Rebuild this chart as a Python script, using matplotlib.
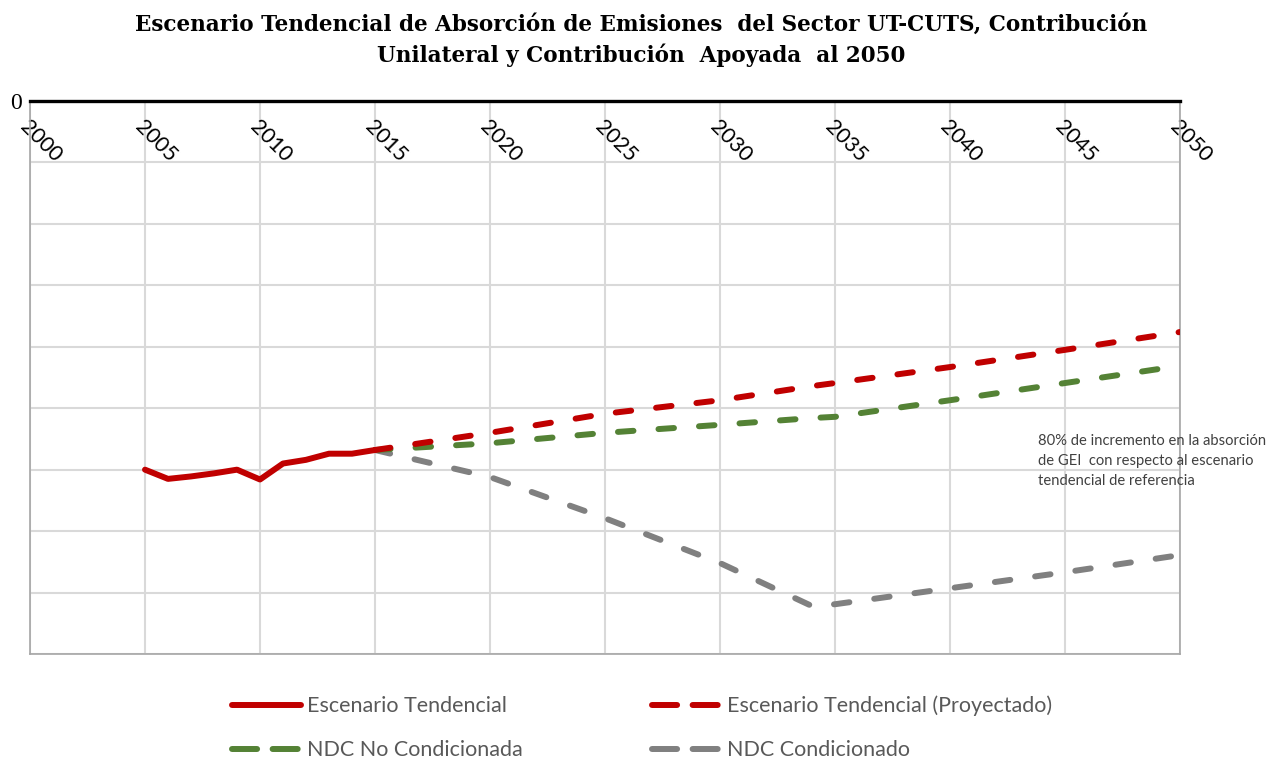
import numpy as np
import matplotlib.pyplot as plt
from matplotlib.lines import Line2D

# datos (unidades de la cuadricula, absorcion negativa)
anios_hist = [2005, 2006, 2007, 2008, 2009, 2010, 2011, 2012, 2013, 2014, 2015]
tendencial = [-6.00, -6.15, -6.11, -6.06, -6.00, -6.16, -5.90, -5.84, -5.74, -5.74, -5.68]

anios_proy = [2015, 2020, 2025, 2030, 2034, 2035, 2040, 2045, 2050]
tend_proy = [-5.68, -5.40, -5.09, -4.87, -4.64, -4.59, -4.33, -4.05, -3.76]
ndc_no_cond = [-5.68, -5.57, -5.40, -5.27, -5.16, -5.14, -4.87, -4.59, -4.31]
ndc_cond = [-5.68, -6.12, -6.79, -7.52, -8.22, -8.19, -7.93, -7.67, -7.39]

ticks_x = list(range(2000, 2051, 5))
ticks_y = list(range(0, -10, -1))
etiquetas_y = ['0'] + [''] * 9

titulo = ('Escenario Tendencial de Absorción de Emisiones  del Sector UT-CUTS, Contribución\n'
          'Unilateral y Contribución  Apoyada  al 2050')
nota = ('80% de incremento en la absorción\n'
        'de GEI  con respecto al escenario\n'
        'tendencial de referencia')

rojo = '#c00000'
verde = '#548235'
gris = '#808080'

fig = plt.figure(figsize=(12.74, 7.61), dpi=100)
ax = fig.add_axes([30 / 1274, 1 - 654 / 761, 1150 / 1274, 553 / 761])

lw = 4.3
ax.plot(anios_hist, tendencial, color=rojo, lw=lw, solid_capstyle='round',
        solid_joinstyle='round', zorder=5)
ax.plot(anios_proy, ndc_cond, color=gris, lw=lw, dashes=(2.6, 4.2), dash_capstyle='round', zorder=3)
ax.plot(anios_proy, ndc_no_cond, color=verde, lw=lw, dashes=(2.6, 4.2), dash_capstyle='round', zorder=3)
ax.plot(anios_proy, tend_proy, color=rojo, lw=lw, dashes=(2.6, 4.2), dash_capstyle='round', zorder=4)

ax.set_xlim(2000, 2050)
ax.set_ylim(-9, 0)
ax.set_xticks(ticks_x)
ax.set_yticks(ticks_y)
ax.set_yticklabels(etiquetas_y, family='Liberation Serif', fontsize=17)
ax.grid(True, color='#d9d9d9', lw=1.5)
ax.set_axisbelow(True)

ax.xaxis.tick_top()
ax.tick_params(axis='x', length=0, pad=-11)
ax.tick_params(axis='y', length=0, pad=6)
for t in ax.get_xticklabels():
    t.set_rotation(-45)
    t.set_rotation_mode('anchor')
    t.set_ha('left')
    t.set_va('top')
    t.set_fontfamily('Lato')
    t.set_fontsize(15.5)

ax.spines['top'].set_color('black')
ax.spines['top'].set_linewidth(2.4)
ax.spines['top'].set_zorder(6)
for s in ['left', 'right', 'bottom']:
    ax.spines[s].set_color('#a6a6a6')
    ax.spines[s].set_linewidth(1.2)

fig.text(0.503, 0.982, titulo, ha='center', va='top', family='DejaVu Serif',
         fontweight='bold', fontsize=15.5, linespacing=1.4)

fig.text(1038 / 1274, 1 - 434 / 761, nota, ha='left', va='top', family='Lato',
         fontsize=10.6, color='#404040', linespacing=1.55)

# leyenda
h = [Line2D([], [], color=rojo, lw=lw, solid_capstyle='round'),
     Line2D([], [], color=verde, lw=lw, dashes=(4.2, 2.6), dash_capstyle='round'),
     Line2D([], [], color=rojo, lw=lw, dashes=(4.2, 2.6), dash_capstyle='round'),
     Line2D([], [], color=gris, lw=lw, dashes=(4.2, 2.6), dash_capstyle='round')]
l = ['Escenario Tendencial', 'NDC No Condicionada',
     'Escenario Tendencial (Proyectado)', 'NDC Condicionado']
leg = fig.legend(h, l, ncol=2, loc='center', bbox_to_anchor=(0.504, 1 - 728 / 761),
                 frameon=False, prop={'family': 'Lato', 'size': 15.5}, handlelength=3.2,
                 handletextpad=0.3, columnspacing=6.0, labelspacing=1.1)
for t in leg.get_texts():
    t.set_color('#595959')

fig.savefig('out.png', dpi=100)
